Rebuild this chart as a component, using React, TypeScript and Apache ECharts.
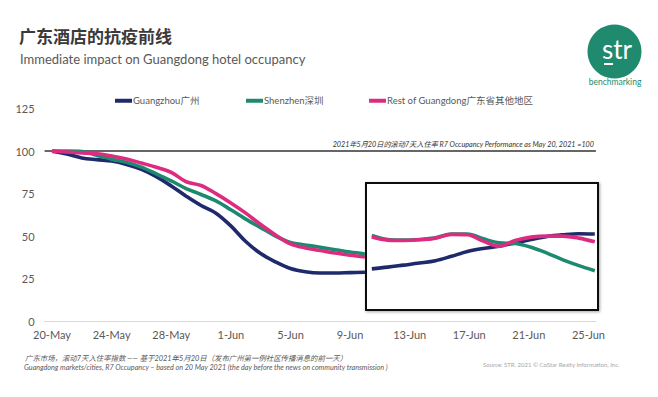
import React, { useEffect, useRef } from "react";
import * as echarts from "echarts";

const dates = [
  "20-May", "21-May", "22-May", "23-May", "24-May", "25-May", "26-May", "27-May", "28-May", "29-May",
  "30-May", "31-May", "1-Jun", "2-Jun", "3-Jun", "4-Jun", "5-Jun", "6-Jun", "7-Jun", "8-Jun",
  "9-Jun", "10-Jun", "11-Jun", "12-Jun", "13-Jun", "14-Jun", "15-Jun", "16-Jun", "17-Jun", "18-Jun",
  "19-Jun", "20-Jun", "21-Jun", "22-Jun", "23-Jun", "24-Jun", "25-Jun",
];

const guangzhou = [100, 98.3, 96, 95, 94.2, 92.2, 89.3, 85, 79.5, 73.5, 68, 63.5, 56, 46.8, 39.7, 34.8, 30.9, 29, 28.3, 28.3, 28.5, 28.7];
const shenzhen = [100, 100, 99.8, 97.6, 95.3, 93.4, 90.6, 86.6, 82.5, 78, 74.5, 70.7, 65.5, 60, 55, 50, 46.3, 44.8, 43.4, 42, 40.6, 39.5];
const restGD = [100, 99.5, 99, 98.5, 97.2, 95.4, 93, 90.5, 87.5, 82, 79.8, 75, 69.5, 63.5, 56.8, 50.7, 45.4, 43, 41.5, 40, 38.7, 37.7];

const insetDates = ["11-Jun", "12-Jun", "13-Jun", "14-Jun", "15-Jun", "16-Jun", "17-Jun", "18-Jun", "19-Jun", "20-Jun", "21-Jun", "22-Jun", "23-Jun", "24-Jun", "25-Jun"];
const insetGuangzhou = [30.7, 31.7, 32.9, 34.1, 35.5, 38.1, 40.9, 42.7, 44, 46, 48, 49.8, 50.8, 51.4, 51.2];
const insetShenzhen = [50.4, 48, 47.6, 48, 49, 51.2, 51.2, 48.4, 46, 45.6, 43.4, 40, 36, 32.6, 29.6];
const insetRestGD = [49.4, 47.6, 47.4, 47.8, 48.8, 51, 50.8, 47, 44, 47.4, 49.4, 50, 50, 48.8, 46.6];

const yTicks = [0, 25, 50, 75, 100, 125];

const seriesNames = ["Guangzhou广州", "Shenzhen深圳", "Rest of Guangdong广东省其他地区"];
const colors = ["#1f2a6b", "#1d8a6f", "#dd2c80"];

const titleText = "广东酒店的抗疫前线";
const subtitleText = "Immediate impact on Guangdong hotel occupancy";
const refNote = "2021年5月20日的滚动7天入住率 R7 Occupancy Performance as May 20, 2021 =100";
const foot1 = "广东市场，滚动7天入住率指数 —— 基于2021年5月20日（发布广州第一例社区传播消息的前一天）";
const foot2 = "Guangdong markets/cities, R7 Occupancy – based on 20 May 2021 (the day before the news on community transmission )";
const sourceText = "Source: STR. 2021 © CoStar Realty Information, Inc.";

const FONT = "Lato, 'Noto Sans CJK SC', sans-serif";

export default function App() {
  const ref = useRef<HTMLDivElement>(null);
  useEffect(() => {
    if (!ref.current) return;
    const chart = echarts.init(ref.current, null, { renderer: "svg" });
    const mainData = [guangzhou, shenzhen, restGD];
    const insetData = [insetGuangzhou, insetShenzhen, insetRestGD];
    const legendLefts = [115, 246, 369];

    const series: any[] = [];
    mainData.forEach((d, i) => {
      const s: any = {
        name: seriesNames[i],
        type: "line",
        data: d,
        xAxisIndex: 0,
        yAxisIndex: 0,
        smooth: 0.35,
        showSymbol: false,
        color: colors[i],
        lineStyle: { width: 3.6, color: colors[i] },
        z: 3 + i,
      };
      if (i === 0) {
        s.markLine = {
          silent: true,
          symbol: ["none", "none"],
          z: 2,
          lineStyle: { color: "#333", width: 1.5, type: "solid" },
          label: {
            show: true,
            position: "insideEndTop",
            formatter: refNote,
            fontSize: 7.2,
            fontStyle: "italic",
            color: "#333",
            fontFamily: FONT,
            distance: [2, 3],
          },
          data: [{ yAxis: 100 }],
        };
      }
      series.push(s);
    });
    insetData.forEach((d, i) => {
      series.push({
        name: seriesNames[i],
        type: "line",
        data: d,
        xAxisIndex: 1,
        yAxisIndex: 1,
        smooth: 0.35,
        showSymbol: false,
        color: colors[i],
        lineStyle: { width: 3.6, color: colors[i] },
        z: 6 + i,
      });
    });

    chart.setOption({
      animation: false,
      backgroundColor: "#fff",
      textStyle: { fontFamily: FONT },
      legend: seriesNames.map((n, i) => ({
        data: [n],
        left: legendLefts[i],
        top: 96,
        padding: 0,
        icon: "rect",
        itemWidth: 17,
        itemHeight: 4,
        selectedMode: false,
        textStyle: { fontSize: 9.5, color: "#595959", fontFamily: FONT, padding: [0, 0, 0, -4] },
      })),
      grid: [
        { left: 44.6, right: 62.1, top: 108.7, bottom: 76 },
        { left: 371.8, width: 223, top: 108.7, bottom: 76 },
      ],
      xAxis: [
        {
          type: "category",
          gridIndex: 0,
          data: dates,
          boundaryGap: true,
          axisLine: { lineStyle: { color: "#d9d9d9", width: 1 } },
          axisTick: { show: false },
          axisLabel: { interval: 3, color: "#595959", fontSize: 11, margin: 8, fontFamily: FONT },
          splitLine: { show: false },
        },
        {
          type: "category",
          gridIndex: 1,
          data: insetDates,
          boundaryGap: false,
          show: false,
        },
      ],
      yAxis: [
        {
          type: "value",
          gridIndex: 0,
          min: yTicks[0],
          max: yTicks[yTicks.length - 1],
          interval: 25,
          axisLine: { show: false },
          axisTick: { show: false },
          splitLine: { show: false },
          axisLabel: { color: "#595959", fontSize: 11, margin: 10, fontFamily: FONT },
        },
        {
          type: "value",
          gridIndex: 1,
          min: yTicks[0],
          max: yTicks[yTicks.length - 1],
          show: false,
          splitLine: { show: false },
        },
      ],
      graphic: [
        {
          type: "rect",
          z: 1,
          shape: { x: 366, y: 183, width: 232, height: 127 },
          style: {
            fill: "#fff",
            stroke: "#111",
            lineWidth: 2,
            shadowBlur: 3,
            shadowColor: "rgba(0,0,0,0.35)",
            shadowOffsetX: 1,
            shadowOffsetY: 1,
          },
        },
        {
          type: "text",
          left: 19,
          top: 27,
          style: { text: titleText, fontSize: 17, fontWeight: "bold", fill: "#3a3a3a", fontFamily: "'Noto Sans CJK SC', sans-serif" },
        },
        {
          type: "text",
          left: 20,
          top: 52,
          style: { text: subtitleText, fontSize: 13, fill: "#595959", fontFamily: FONT },
        },
        {
          type: "text",
          left: 25,
          top: 355,
          style: { text: foot1, fontSize: 7.4, fontStyle: "italic", fill: "#595959", fontFamily: FONT },
        },
        {
          type: "text",
          left: 24,
          top: 364,
          style: { text: foot2, fontSize: 7.2, fontStyle: "italic", fill: "#595959", fontFamily: FONT },
        },
        {
          type: "text",
          left: 483,
          top: 361,
          style: { text: sourceText, fontSize: 6, fill: "#a6a6a6", fontFamily: FONT },
        },
        {
          type: "circle",
          shape: { cx: 614.5, cy: 51.5, r: 27 },
          style: { fill: "#1f8a6e" },
        },
        {
          type: "text",
          x: 617,
          y: 62,
          style: { text: "str", fontSize: 26, fill: "#fff", fontFamily: FONT, align: "center", verticalAlign: "bottom" },
        },
        {
          type: "rect",
          shape: { x: 604, y: 63, width: 9, height: 2 },
          style: { fill: "#fff" },
        },
        {
          type: "text",
          x: 615,
          y: 81.5,
          style: { text: "benchmarking", fontSize: 8.5, fill: "#1f8a6e", fontFamily: FONT, align: "center", verticalAlign: "middle" },
        },
      ],
      series,
    });
    return () => chart.dispose();
  }, []);
  return <div ref={ref} style={{ position: "fixed", left: 0, top: 0, width: 658, height: 397 }} />;
}
